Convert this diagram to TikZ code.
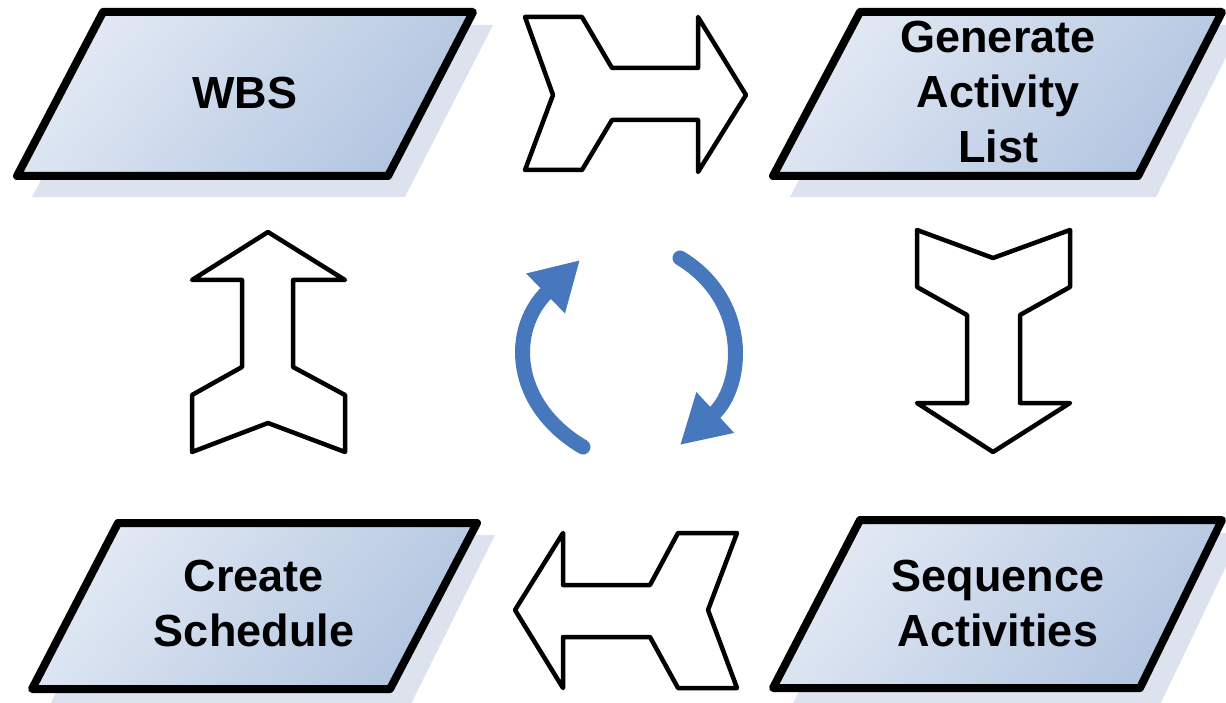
\documentclass[tikz,border=0pt]{standalone}
\usepackage{fontspec}
\setmainfont{Liberation Sans}
\usepackage{xcolor}
\usepackage{tikz}
\usetikzlibrary{arrows.meta,positioning,calc}
\definecolor{boxlight}{RGB}{226,233,244}
\definecolor{boxdark}{RGB}{178,197,224}
\definecolor{shadowblue}{RGB}{220,227,239}
\definecolor{cycleblue}{RGB}{71,119,189}
\tikzset{
  procbox/.style={draw=black,line width=8pt,line join=round,left color=boxlight,right color=boxdark,shading angle=50},
  procshadow/.style={fill=shadowblue,draw=none},
  blockarrow/.style={draw=black,fill=white,line width=4.5pt,line join=round},
  cyclearrow/.style={draw=cycleblue,line width=15pt,line cap=round,-{Triangle[length=48pt,width=52pt]}},
  lab/.style={font=\bfseries\fontsize{45}{55}\selectfont,align=center,inner sep=0pt}
}
\begin{document}
\begin{tikzpicture}[x=1pt,y=-1pt]
  \useasboundingbox (0,0) rectangle (1226,703);

  % shadows
  \fill[procshadow] (32,197) -- (123,25) -- (493,25) -- (405,197) -- cycle;
  \fill[procshadow] (790,197) -- (880,25) -- (1242,25) -- (1156,197) -- cycle;
  \fill[procshadow] (47,710) -- (138,535) -- (495,535) -- (408,710) -- cycle;
  \fill[procshadow] (790,709) -- (880,533) -- (1242,533) -- (1158,709) -- cycle;

  % process boxes
  \draw[procbox] (17,176) -- (103,12) -- (473,12) -- (388,176) -- cycle;
  \draw[procbox] (773,176) -- (860,12) -- (1222,12) -- (1138,176) -- cycle;
  \draw[procbox] (773,688) -- (860,520) -- (1222,520) -- (1140,688) -- cycle;
  \draw[procbox] (32,689) -- (118,523) -- (477,523) -- (390,689) -- cycle;

  \node[lab] (wbs) at (245,93) {WBS};
  \node[lab] (genlist) at (998,92) {Generate\\Activity\\List};
  \node[lab] (seqact) at (998,604) {Sequence\\Activities};
  \node[lab] (mksched) at (254,604) {Create\\Schedule};

  % block arrows
  \draw[blockarrow] (525,17) -- (582,17) -- (612,68) -- (698,68) -- (698,17) -- (746,95)
    -- (698,172) -- (698,120) -- (612,120) -- (582,170) -- (525,170) -- (553,95) -- cycle;
  \draw[blockarrow] (917,230) -- (993,258) -- (1070,230) -- (1070,287) -- (1020,315) -- (1020,403)
    -- (1070,403) -- (993,452) -- (917,403) -- (967,403) -- (967,315) -- (917,287) -- cycle;
  \draw[blockarrow] (515,610) -- (563,533) -- (563,585) -- (650,585) -- (678,533) -- (737,533)
    -- (708,610) -- (737,688) -- (678,688) -- (650,637) -- (563,637) -- (563,688) -- cycle;
  \draw[blockarrow] (268,232) -- (345,280) -- (293,280) -- (293,367) -- (345,395) -- (345,452)
    -- (268,423) -- (192,452) -- (192,395) -- (242,367) -- (242,280) -- (192,280) -- cycle;

  % cycle
  \coordinate (cl0) at (583,447);
  \coordinate (cl1) at (580,260);
  \coordinate (cr0) at (680,258);
  \coordinate (cr1) at (680,445);
  \draw[cyclearrow] (cl0) .. controls (512,405) and (508,330) .. (cl1);
  \draw[cyclearrow] (cr0) .. controls (750,300) and (745,385) .. (cr1);
\end{tikzpicture}
\end{document}
